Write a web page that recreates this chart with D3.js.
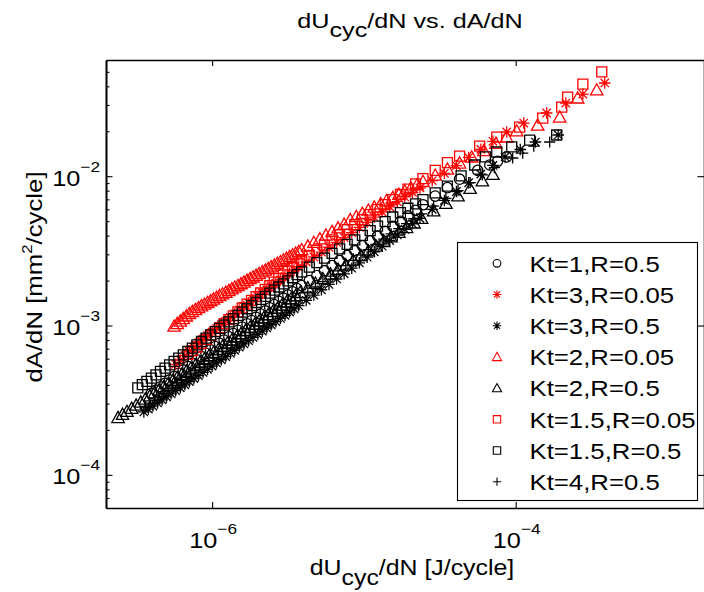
<!DOCTYPE html>
<html>
<head>
<meta charset="utf-8">
<script src="https://cdn.jsdelivr.net/npm/d3@7"></script>
<style>
  body { margin: 0; background: #fff; }
  svg { display: block; font-family: "Liberation Sans", Arial, Helvetica, sans-serif; }
</style>
</head>
<body>
<svg id="chart" width="704" height="592"></svg>
<script>
// Energy dissipation rate dU_cyc/dN [J/cycle] (u*) against crack area growth rate dA/dN [mm^2/cycle] (a*)

// Kt=1, R=0.5
const uKt1R05 = [3.98e-7, 4.27e-7, 4.57e-7, 4.90e-7, 5.25e-7, 5.62e-7, 6.03e-7, 6.46e-7, 6.92e-7, 7.41e-7, 7.94e-7, 8.51e-7, 9.12e-7, 9.77e-7, 1.05e-6, 1.12e-6, 1.20e-6, 1.29e-6, 1.38e-6, 1.48e-6, 1.58e-6, 1.70e-6, 1.82e-6, 1.95e-6, 2.09e-6, 2.24e-6, 2.40e-6, 2.57e-6, 2.75e-6, 2.95e-6, 3.16e-6, 3.39e-6, 3.63e-6, 3.89e-6, 4.37e-6, 4.90e-6, 5.50e-6, 6.17e-6, 6.92e-6, 7.76e-6, 8.71e-6, 9.77e-6, 1.10e-5, 1.23e-5, 1.38e-5, 1.55e-5, 1.74e-5, 1.95e-5, 2.19e-5, 2.45e-5, 2.95e-5, 3.55e-5, 4.27e-5, 5.62e-5, 6.76e-5, 7.59e-5, 8.71e-5];
const aKt1R05 = [3.51e-4, 3.69e-4, 3.89e-4, 4.10e-4, 4.32e-4, 4.55e-4, 4.79e-4, 5.04e-4, 5.31e-4, 5.59e-4, 5.89e-4, 6.20e-4, 6.52e-4, 6.87e-4, 7.22e-4, 7.59e-4, 7.99e-4, 8.40e-4, 8.84e-4, 9.29e-4, 9.77e-4, 1.028e-3, 1.080e-3, 1.135e-3, 1.192e-3, 1.252e-3, 1.315e-3, 1.381e-3, 1.451e-3, 1.524e-3, 1.601e-3, 1.681e-3, 1.766e-3, 1.852e-3, 2.00e-3, 2.16e-3, 2.33e-3, 2.52e-3, 2.72e-3, 2.94e-3, 3.17e-3, 3.42e-3, 3.69e-3, 3.97e-3, 4.28e-3, 4.61e-3, 4.98e-3, 5.42e-3, 5.91e-3, 6.44e-3, 7.36e-3, 8.38e-3, 9.55e-3, 1.094e-2, 1.189e-2, 1.259e-2, 1.346e-2];

// Kt=3, R=0.05
const uKt3R005 = [5.75e-7, 6.17e-7, 6.61e-7, 7.08e-7, 7.59e-7, 8.13e-7, 8.71e-7, 9.33e-7, 1.00e-6, 1.07e-6, 1.15e-6, 1.23e-6, 1.32e-6, 1.41e-6, 1.51e-6, 1.62e-6, 1.74e-6, 1.86e-6, 2.00e-6, 2.14e-6, 2.29e-6, 2.45e-6, 2.63e-6, 2.82e-6, 3.02e-6, 3.24e-6, 3.47e-6, 3.72e-6, 4.17e-6, 4.68e-6, 5.25e-6, 5.89e-6, 6.61e-6, 7.41e-6, 8.32e-6, 9.33e-6, 1.05e-5, 1.17e-5, 1.32e-5, 1.48e-5, 1.66e-5, 1.86e-5, 2.09e-5, 2.34e-5, 2.82e-5, 3.39e-5, 4.07e-5, 4.90e-5, 5.89e-5, 7.08e-5, 8.73e-5, 1.130e-4, 1.600e-4, 2.14e-4, 2.77e-4, 3.86e-4];
const aKt3R005 = [5.50e-4, 5.88e-4, 6.28e-4, 6.70e-4, 7.15e-4, 7.64e-4, 8.10e-4, 8.57e-4, 9.06e-4, 9.58e-4, 1.013e-3, 1.072e-3, 1.134e-3, 1.199e-3, 1.268e-3, 1.342e-3, 1.419e-3, 1.494e-3, 1.572e-3, 1.653e-3, 1.739e-3, 1.829e-3, 1.923e-3, 2.022e-3, 2.128e-3, 2.238e-3, 2.354e-3, 2.476e-3, 2.671e-3, 2.879e-3, 3.102e-3, 3.343e-3, 3.602e-3, 3.882e-3, 4.190e-3, 4.536e-3, 4.912e-3, 5.318e-3, 5.757e-3, 6.233e-3, 6.749e-3, 7.260e-3, 7.790e-3, 8.354e-3, 9.348e-3, 1.046e-2, 1.178e-2, 1.335e-2, 1.512e-2, 1.713e-2, 1.977e-2, 2.27e-2, 2.65e-2, 3.09e-2, 3.55e-2, 4.21e-2];

// Kt=3, R=0.5
const uKt3R05 = [3.55e-7, 3.80e-7, 4.07e-7, 4.37e-7, 4.68e-7, 5.01e-7, 5.37e-7, 5.75e-7, 6.17e-7, 6.61e-7, 7.08e-7, 7.59e-7, 8.13e-7, 8.71e-7, 9.33e-7, 1.00e-6, 1.07e-6, 1.15e-6, 1.23e-6, 1.32e-6, 1.41e-6, 1.51e-6, 1.62e-6, 1.74e-6, 1.86e-6, 2.00e-6, 2.14e-6, 2.29e-6, 2.45e-6, 2.63e-6, 2.82e-6, 3.02e-6, 3.24e-6, 3.47e-6, 3.72e-6, 4.17e-6, 4.68e-6, 5.25e-6, 5.89e-6, 6.61e-6, 7.41e-6, 8.32e-6, 9.33e-6, 1.05e-5, 1.17e-5, 1.32e-5, 1.48e-5, 1.66e-5, 1.86e-5, 2.09e-5, 2.34e-5, 2.82e-5, 3.39e-5, 4.07e-5, 4.90e-5, 5.89e-5, 7.08e-5, 8.51e-5, 1.072e-4, 1.349e-4, 1.905e-4];
const aKt3R05 = [2.64e-4, 2.76e-4, 2.89e-4, 3.03e-4, 3.18e-4, 3.33e-4, 3.49e-4, 3.66e-4, 3.83e-4, 4.01e-4, 4.21e-4, 4.41e-4, 4.62e-4, 4.85e-4, 5.09e-4, 5.35e-4, 5.62e-4, 5.90e-4, 6.19e-4, 6.51e-4, 6.83e-4, 7.18e-4, 7.54e-4, 7.92e-4, 8.32e-4, 8.73e-4, 9.17e-4, 9.63e-4, 1.012e-3, 1.062e-3, 1.116e-3, 1.172e-3, 1.231e-3, 1.293e-3, 1.358e-3, 1.474e-3, 1.600e-3, 1.736e-3, 1.885e-3, 2.05e-3, 2.22e-3, 2.42e-3, 2.63e-3, 2.87e-3, 3.12e-3, 3.40e-3, 3.71e-3, 4.04e-3, 4.41e-3, 4.80e-3, 5.23e-3, 6.00e-3, 6.88e-3, 7.90e-3, 9.04e-3, 1.033e-2, 1.181e-2, 1.346e-2, 1.510e-2, 1.694e-2, 1.888e-2];

// Kt=2, R=0.05
const uKt2R005 = [5.62e-7, 5.89e-7, 6.17e-7, 6.46e-7, 6.76e-7, 7.08e-7, 7.41e-7, 7.76e-7, 8.13e-7, 8.51e-7, 8.91e-7, 9.33e-7, 9.77e-7, 1.02e-6, 1.07e-6, 1.12e-6, 1.17e-6, 1.23e-6, 1.29e-6, 1.35e-6, 1.41e-6, 1.48e-6, 1.55e-6, 1.62e-6, 1.70e-6, 1.78e-6, 1.86e-6, 1.95e-6, 2.04e-6, 2.14e-6, 2.24e-6, 2.34e-6, 2.45e-6, 2.57e-6, 2.69e-6, 2.82e-6, 2.95e-6, 3.09e-6, 3.24e-6, 3.39e-6, 3.55e-6, 3.72e-6, 3.89e-6, 4.27e-6, 4.68e-6, 5.13e-6, 5.62e-6, 6.17e-6, 6.76e-6, 7.41e-6, 8.13e-6, 8.91e-6, 9.77e-6, 1.07e-5, 1.17e-5, 1.29e-5, 1.41e-5, 1.55e-5, 1.70e-5, 1.86e-5, 2.04e-5, 2.24e-5, 2.45e-5, 2.95e-5, 3.55e-5, 4.27e-5, 5.13e-5, 6.17e-5, 7.41e-5, 8.71e-5, 1.016e-4, 1.396e-4, 1.950e-4, 2.56e-4, 3.42e-4];
const aKt2R005 = [9.90e-4, 1.030e-3, 1.071e-3, 1.113e-3, 1.158e-3, 1.204e-3, 1.241e-3, 1.279e-3, 1.317e-3, 1.354e-3, 1.390e-3, 1.427e-3, 1.465e-3, 1.504e-3, 1.544e-3, 1.585e-3, 1.627e-3, 1.670e-3, 1.714e-3, 1.760e-3, 1.806e-3, 1.854e-3, 1.904e-3, 1.954e-3, 2.006e-3, 2.06e-3, 2.114e-3, 2.170e-3, 2.228e-3, 2.287e-3, 2.348e-3, 2.410e-3, 2.474e-3, 2.539e-3, 2.607e-3, 2.676e-3, 2.747e-3, 2.820e-3, 2.894e-3, 2.972e-3, 3.051e-3, 3.132e-3, 3.219e-3, 3.405e-3, 3.601e-3, 3.809e-3, 4.029e-3, 4.261e-3, 4.507e-3, 4.768e-3, 5.118e-3, 5.372e-3, 5.642e-3, 5.921e-3, 6.216e-3, 6.527e-3, 6.851e-3, 7.194e-3, 7.552e-3, 7.938e-3, 8.342e-3, 8.770e-3, 9.218e-3, 1.016e-2, 1.115e-2, 1.225e-2, 1.345e-2, 1.485e-2, 1.661e-2, 1.830e-2, 2.01e-2, 2.20e-2, 2.49e-2, 3.34e-2, 3.78e-2];

// Kt=2, R=0.5
const uKt2R05 = [2.40e-7, 2.57e-7, 2.75e-7, 2.95e-7, 3.16e-7, 3.39e-7, 3.63e-7, 3.89e-7, 4.17e-7, 4.47e-7, 4.79e-7, 5.13e-7, 5.50e-7, 5.89e-7, 6.31e-7, 6.76e-7, 7.24e-7, 7.76e-7, 8.32e-7, 8.91e-7, 9.55e-7, 1.02e-6, 1.10e-6, 1.17e-6, 1.26e-6, 1.35e-6, 1.45e-6, 1.55e-6, 1.66e-6, 1.78e-6, 1.91e-6, 2.04e-6, 2.19e-6, 2.34e-6, 2.51e-6, 2.69e-6, 2.88e-6, 3.09e-6, 3.31e-6, 3.55e-6, 3.80e-6, 4.27e-6, 4.79e-6, 5.37e-6, 6.03e-6, 6.76e-6, 7.59e-6, 8.51e-6, 9.55e-6, 1.07e-5, 1.20e-5, 1.35e-5, 1.51e-5, 1.70e-5, 1.91e-5, 2.14e-5, 2.40e-5, 2.88e-5, 3.47e-5, 4.17e-5, 5.01e-5, 6.03e-5, 7.08e-5];
const aKt2R05 = [2.42e-4, 2.54e-4, 2.66e-4, 2.79e-4, 2.93e-4, 3.07e-4, 3.22e-4, 3.38e-4, 3.54e-4, 3.71e-4, 3.89e-4, 4.08e-4, 4.28e-4, 4.49e-4, 4.71e-4, 4.94e-4, 5.18e-4, 5.44e-4, 5.70e-4, 5.99e-4, 6.29e-4, 6.60e-4, 6.93e-4, 7.27e-4, 7.64e-4, 8.02e-4, 8.42e-4, 8.84e-4, 9.28e-4, 9.74e-4, 1.023e-3, 1.074e-3, 1.127e-3, 1.184e-3, 1.243e-3, 1.305e-3, 1.370e-3, 1.438e-3, 1.510e-3, 1.585e-3, 1.665e-3, 1.79e-3, 1.92e-3, 2.06e-3, 2.21e-3, 2.38e-3, 2.55e-3, 2.74e-3, 2.94e-3, 3.16e-3, 3.40e-3, 3.65e-3, 3.92e-3, 4.21e-3, 4.52e-3, 4.86e-3, 5.22e-3, 5.86e-3, 6.58e-3, 7.38e-3, 8.28e-3, 9.31e-3, 1.028e-2];

// Kt=1.5, R=0.05
const uKt15R005 = [6.92e-7, 7.41e-7, 7.94e-7, 8.51e-7, 9.12e-7, 9.77e-7, 1.05e-6, 1.12e-6, 1.20e-6, 1.29e-6, 1.38e-6, 1.48e-6, 1.58e-6, 1.70e-6, 1.82e-6, 1.95e-6, 2.09e-6, 2.24e-6, 2.40e-6, 2.57e-6, 2.75e-6, 2.95e-6, 3.16e-6, 3.39e-6, 3.63e-6, 3.89e-6, 4.37e-6, 4.90e-6, 5.50e-6, 6.17e-6, 6.92e-6, 7.76e-6, 8.71e-6, 9.77e-6, 1.10e-5, 1.23e-5, 1.38e-5, 1.55e-5, 1.74e-5, 1.95e-5, 2.19e-5, 2.45e-5, 2.95e-5, 3.55e-5, 4.27e-5, 5.79e-5, 7.50e-5, 1.062e-4, 1.507e-4, 2.01e-4, 2.20e-4, 2.77e-4, 3.69e-4];
const aKt15R005 = [6.42e-4, 6.79e-4, 7.18e-4, 7.61e-4, 8.09e-4, 8.59e-4, 9.13e-4, 9.69e-4, 1.030e-3, 1.094e-3, 1.162e-3, 1.234e-3, 1.311e-3, 1.392e-3, 1.476e-3, 1.561e-3, 1.651e-3, 1.747e-3, 1.847e-3, 1.954e-3, 2.066e-3, 2.185e-3, 2.312e-3, 2.444e-3, 2.586e-3, 2.725e-3, 2.950e-3, 3.193e-3, 3.457e-3, 3.744e-3, 4.054e-3, 4.388e-3, 4.746e-3, 5.126e-3, 5.537e-3, 5.981e-3, 6.461e-3, 6.979e-3, 7.543e-3, 8.185e-3, 8.880e-3, 9.634e-3, 1.094e-2, 1.232e-2, 1.364e-2, 1.592e-2, 1.828e-2, 2.13e-2, 2.45e-2, 2.90e-2, 3.39e-2, 4.14e-2, 4.99e-2];

// Kt=1.5, R=0.5
const uKt15R05 = [3.24e-7, 3.47e-7, 3.72e-7, 3.98e-7, 4.27e-7, 4.57e-7, 4.90e-7, 5.25e-7, 5.62e-7, 6.03e-7, 6.46e-7, 6.92e-7, 7.41e-7, 7.94e-7, 8.51e-7, 9.12e-7, 9.77e-7, 1.05e-6, 1.12e-6, 1.20e-6, 1.29e-6, 1.38e-6, 1.48e-6, 1.58e-6, 1.70e-6, 1.82e-6, 1.95e-6, 2.09e-6, 2.24e-6, 2.40e-6, 2.57e-6, 2.75e-6, 2.95e-6, 3.16e-6, 3.39e-6, 3.63e-6, 3.89e-6, 4.37e-6, 4.90e-6, 5.50e-6, 6.17e-6, 6.92e-6, 7.76e-6, 8.71e-6, 9.77e-6, 1.10e-5, 1.23e-5, 1.38e-5, 1.55e-5, 1.74e-5, 1.95e-5, 2.19e-5, 2.45e-5, 2.95e-5, 3.55e-5, 4.37e-5, 5.37e-5, 6.31e-5, 7.50e-5, 9.42e-5, 1.236e-4, 1.862e-4];
const aKt15R05 = [3.82e-4, 4.02e-4, 4.23e-4, 4.45e-4, 4.68e-4, 4.93e-4, 5.19e-4, 5.46e-4, 5.75e-4, 6.05e-4, 6.36e-4, 6.70e-4, 7.05e-4, 7.42e-4, 7.82e-4, 8.23e-4, 8.65e-4, 9.10e-4, 9.57e-4, 1.006e-3, 1.058e-3, 1.113e-3, 1.171e-3, 1.231e-3, 1.295e-3, 1.360e-3, 1.427e-3, 1.497e-3, 1.570e-3, 1.647e-3, 1.727e-3, 1.811e-3, 1.899e-3, 1.992e-3, 2.09e-3, 2.19e-3, 2.29e-3, 2.46e-3, 2.64e-3, 2.83e-3, 3.04e-3, 3.26e-3, 3.50e-3, 3.75e-3, 4.02e-3, 4.32e-3, 4.63e-3, 4.97e-3, 5.33e-3, 5.71e-3, 6.10e-3, 6.52e-3, 6.96e-3, 7.73e-3, 8.58e-3, 1.005e-2, 1.189e-2, 1.346e-2, 1.452e-2, 1.570e-2, 1.746e-2, 1.888e-2];

// Kt=4, R=0.5
const uKt4R05 = [3.63e-7, 3.89e-7, 4.17e-7, 4.47e-7, 4.79e-7, 5.13e-7, 5.50e-7, 5.89e-7, 6.31e-7, 6.76e-7, 7.24e-7, 7.76e-7, 8.32e-7, 8.91e-7, 9.55e-7, 1.02e-6, 1.10e-6, 1.17e-6, 1.26e-6, 1.35e-6, 1.45e-6, 1.55e-6, 1.66e-6, 1.78e-6, 1.91e-6, 2.04e-6, 2.19e-6, 2.34e-6, 2.51e-6, 2.69e-6, 2.88e-6, 3.09e-6, 3.31e-6, 3.55e-6, 3.80e-6, 4.27e-6, 4.79e-6, 5.37e-6, 6.03e-6, 6.76e-6, 7.59e-6, 8.51e-6, 9.55e-6, 1.07e-5, 1.20e-5, 1.35e-5, 1.51e-5, 1.70e-5, 1.91e-5, 2.14e-5, 2.40e-5, 2.88e-5, 3.47e-5, 4.17e-5, 5.01e-5, 6.03e-5, 7.24e-5, 9.55e-5, 1.112e-4, 1.315e-4, 1.675e-4];
const aKt4R05 = [2.87e-4, 3.02e-4, 3.17e-4, 3.34e-4, 3.51e-4, 3.68e-4, 3.87e-4, 4.07e-4, 4.28e-4, 4.50e-4, 4.73e-4, 4.97e-4, 5.23e-4, 5.49e-4, 5.77e-4, 6.06e-4, 6.36e-4, 6.68e-4, 7.02e-4, 7.37e-4, 7.74e-4, 8.13e-4, 8.54e-4, 8.97e-4, 9.42e-4, 9.90e-4, 1.040e-3, 1.092e-3, 1.147e-3, 1.205e-3, 1.265e-3, 1.329e-3, 1.396e-3, 1.466e-3, 1.540e-3, 1.672e-3, 1.814e-3, 1.969e-3, 2.14e-3, 2.32e-3, 2.52e-3, 2.73e-3, 2.97e-3, 3.22e-3, 3.49e-3, 3.79e-3, 4.11e-3, 4.46e-3, 4.81e-3, 5.19e-3, 5.59e-3, 6.30e-3, 7.10e-3, 8.01e-3, 9.05e-3, 1.022e-2, 1.143e-2, 1.324e-2, 1.429e-2, 1.592e-2, 1.694e-2];

// Axis ticks
const xTickValues = [1e-6, 1e-4];
const yTickValues = [1e-4, 1e-3, 1e-2];
const yMinorTickValues = [7e-5, 8e-5, 9e-5, 2e-4, 3e-4, 4e-4, 5e-4, 6e-4, 7e-4, 8e-4, 9e-4,
                          2e-3, 3e-3, 4e-3, 5e-3, 6e-3, 7e-3, 8e-3, 9e-3, 2e-2, 3e-2, 4e-2, 5e-2];

// Series in plotting order (later ones are drawn on top)
const series = [
  { label: "Kt=1,R=0.5",    u: uKt1R05,   a: aKt1R05,   color: "#000000", marker: "circle" },
  { label: "Kt=3,R=0.05",   u: uKt3R005,  a: aKt3R005,  color: "#ff0000", marker: "asterisk" },
  { label: "Kt=3,R=0.5",    u: uKt3R05,   a: aKt3R05,   color: "#000000", marker: "asterisk" },
  { label: "Kt=2,R=0.05",   u: uKt2R005,  a: aKt2R005,  color: "#ff0000", marker: "triangle" },
  { label: "Kt=2,R=0.5",    u: uKt2R05,   a: aKt2R05,   color: "#000000", marker: "triangle" },
  { label: "Kt=1.5,R=0.05", u: uKt15R005, a: aKt15R005, color: "#ff0000", marker: "square" },
  { label: "Kt=1.5,R=0.5",  u: uKt15R05,  a: aKt15R05,  color: "#000000", marker: "square" },
  { label: "Kt=4,R=0.5",    u: uKt4R05,   a: aKt4R05,   color: "#000000", marker: "plus" }
];

const W = 704, H = 592;
const box = { left: 106, top: 60, right: 704, bottom: 508 };
const FONT = '"Liberation Sans", Arial, Helvetica, sans-serif';

const x = d3.scaleLog().domain([2e-7, 1.74e-3]).range([box.left, box.right]);
const y = d3.scaleLog().domain([6e-5, 6e-2]).range([box.bottom, box.top]);

const svg = d3.select("#chart");
svg.append("rect").attr("width", W).attr("height", H).attr("fill", "#ffffff");

svg.append("defs").append("clipPath").attr("id", "plot-clip")
  .append("rect")
  .attr("x", box.left).attr("y", box.top)
  .attr("width", box.right - box.left).attr("height", box.bottom - box.top);

// Marker outlines centred on (0,0); s scales the marker
const markerPath = {
  circle: s => { const r = 5.2 * s; return `M${r},0A${r},${r} 0 1,1 ${-r},0A${r},${r} 0 1,1 ${r},0Z`; },
  square: s => { const h = 5.0 * s; return `M${-h},${-h}H${h}V${h}H${-h}Z`; },
  triangle: s => { const w = 6.2 * s, t = 6.2 * s, b = 5.0 * s; return `M0,${-t}L${w},${b}L${-w},${b}Z`; },
  plus: s => { const h = 5.6 * s; return `M${-h},0H${h}M0,${-h}V${h}`; },
  asterisk: s => {
    const h = 5.8 * s, d = h * 0.72;
    return `M${-h},0H${h}M0,${-h}V${h}M${-d},${-d}L${d},${d}M${-d},${d}L${d},${-d}`;
  }
};

// Data markers
const plotArea = svg.append("g").attr("clip-path", "url(#plot-clip)");
series.forEach(s => {
  const n = Math.min(s.u.length, s.a.length);
  const pts = s.u.slice(0, n).map((u, i) => [u, s.a[i]]);
  plotArea.append("g")
    .selectAll("path")
    .data(pts)
    .join("path")
    .attr("transform", d => `translate(${x(d[0])},${y(d[1])})`)
    .attr("d", markerPath[s.marker](1))
    .attr("fill", "none")
    .attr("stroke", s.color)
    .attr("stroke-width", 1.3);
});

// Axes: ticks point inward, box on all four sides
const axisStyle = g => {
  g.selectAll(".domain").attr("stroke", "#000").attr("stroke-width", 1.6);
  g.selectAll(".tick line").attr("stroke", "#000").attr("stroke-width", 1.1);
  g.selectAll(".tick text").remove();
};

svg.append("g").attr("transform", `translate(0,${box.bottom})`)
  .call(d3.axisBottom(x).tickValues(xTickValues).tickSizeInner(-6).tickSizeOuter(0))
  .call(axisStyle);
svg.append("g").attr("transform", `translate(0,${box.top})`)
  .call(d3.axisTop(x).tickValues(xTickValues).tickSizeInner(-6).tickSizeOuter(0))
  .call(axisStyle);
svg.append("g").attr("transform", `translate(${box.left},0)`)
  .call(d3.axisLeft(y).tickValues(yTickValues).tickSizeInner(-6.5).tickSizeOuter(0))
  .call(axisStyle);
svg.append("g").attr("transform", `translate(${box.left},0)`)
  .call(d3.axisLeft(y).tickValues(yMinorTickValues).tickSizeInner(-3.5).tickSizeOuter(0))
  .call(axisStyle);
svg.append("g").attr("transform", `translate(${box.right},0)`)
  .call(d3.axisRight(y).tickValues(yTickValues).tickSizeInner(-6.5).tickSizeOuter(0))
  .call(axisStyle);

// "10" with a raised exponent
function powerLabel(parent, v, anchor, sx) {
  const e = Math.round(Math.log10(v));
  const t = parent.append("text")
    .attr("text-anchor", anchor)
    .attr("font-family", FONT)
    .attr("font-size", 22)
    .attr("fill", "#000")
    .attr("transform", `scale(${sx},1)`);
  t.append("tspan").text("10");
  t.append("tspan").attr("font-size", 15).attr("dy", -14).text("\u2212" + Math.abs(e));
  return t;
}

xTickValues.forEach(v => {
  const g = svg.append("g").attr("transform", `translate(${x(v) + 1},548)`);
  powerLabel(g, v, "middle", 1.15);
});
yTickValues.forEach(v => {
  const g = svg.append("g").attr("transform", `translate(100,${y(v) + 9.5})`);
  powerLabel(g, v, "end", 1.15);
});

// Title
{
  const g = svg.append("g").attr("transform", "translate(410,28) scale(1.2,1)");
  const t = g.append("text").attr("text-anchor", "middle")
    .attr("font-family", FONT).attr("font-size", 21).attr("fill", "#000");
  t.append("tspan").text("dU");
  t.append("tspan").attr("dy", 9).text("cyc");
  t.append("tspan").attr("dy", -9).text("/dN vs. dA/dN");
}

// x-axis label
{
  const g = svg.append("g").attr("transform", "translate(412,575) scale(1.13,1)");
  const t = g.append("text").attr("text-anchor", "middle")
    .attr("font-family", FONT).attr("font-size", 22).attr("fill", "#000");
  t.append("tspan").text("dU");
  t.append("tspan").attr("dy", 10).text("cyc");
  t.append("tspan").attr("dy", -10).text("/dN [J/cycle]");
}

// y-axis label
{
  const g = svg.append("g").attr("transform", "translate(42,277) rotate(-90) scale(1.12,1)");
  const t = g.append("text").attr("text-anchor", "middle")
    .attr("font-family", FONT).attr("font-size", 23).attr("fill", "#000");
  t.append("tspan").text("dA/dN [mm");
  t.append("tspan").attr("font-size", 15).attr("dy", -10).text("2");
  t.append("tspan").attr("dy", 10).text("/cycle]");
}

// Legend
{
  const lg = svg.append("g");
  lg.append("rect")
    .attr("x", 457.5).attr("y", 242.5).attr("width", 240).attr("height", 258)
    .attr("fill", "#fff").attr("stroke", "#000").attr("stroke-width", 1.1);
  const rowY = d3.scalePoint().domain(series.map(s => s.label)).range([263.3, 481.7]);
  series.forEach(s => {
    const cy = rowY(s.label);
    lg.append("path")
      .attr("transform", `translate(497,${cy})`)
      .attr("d", markerPath[s.marker](0.74))
      .attr("fill", "none").attr("stroke", s.color).attr("stroke-width", 1.1);
    lg.append("g").attr("transform", `translate(529.5,${cy + 8.3}) scale(1.12,1)`)
      .append("text")
      .attr("font-family", FONT).attr("font-size", 23).attr("fill", "#000")
      .text(s.label);
  });
}
</script>
</body>
</html>
